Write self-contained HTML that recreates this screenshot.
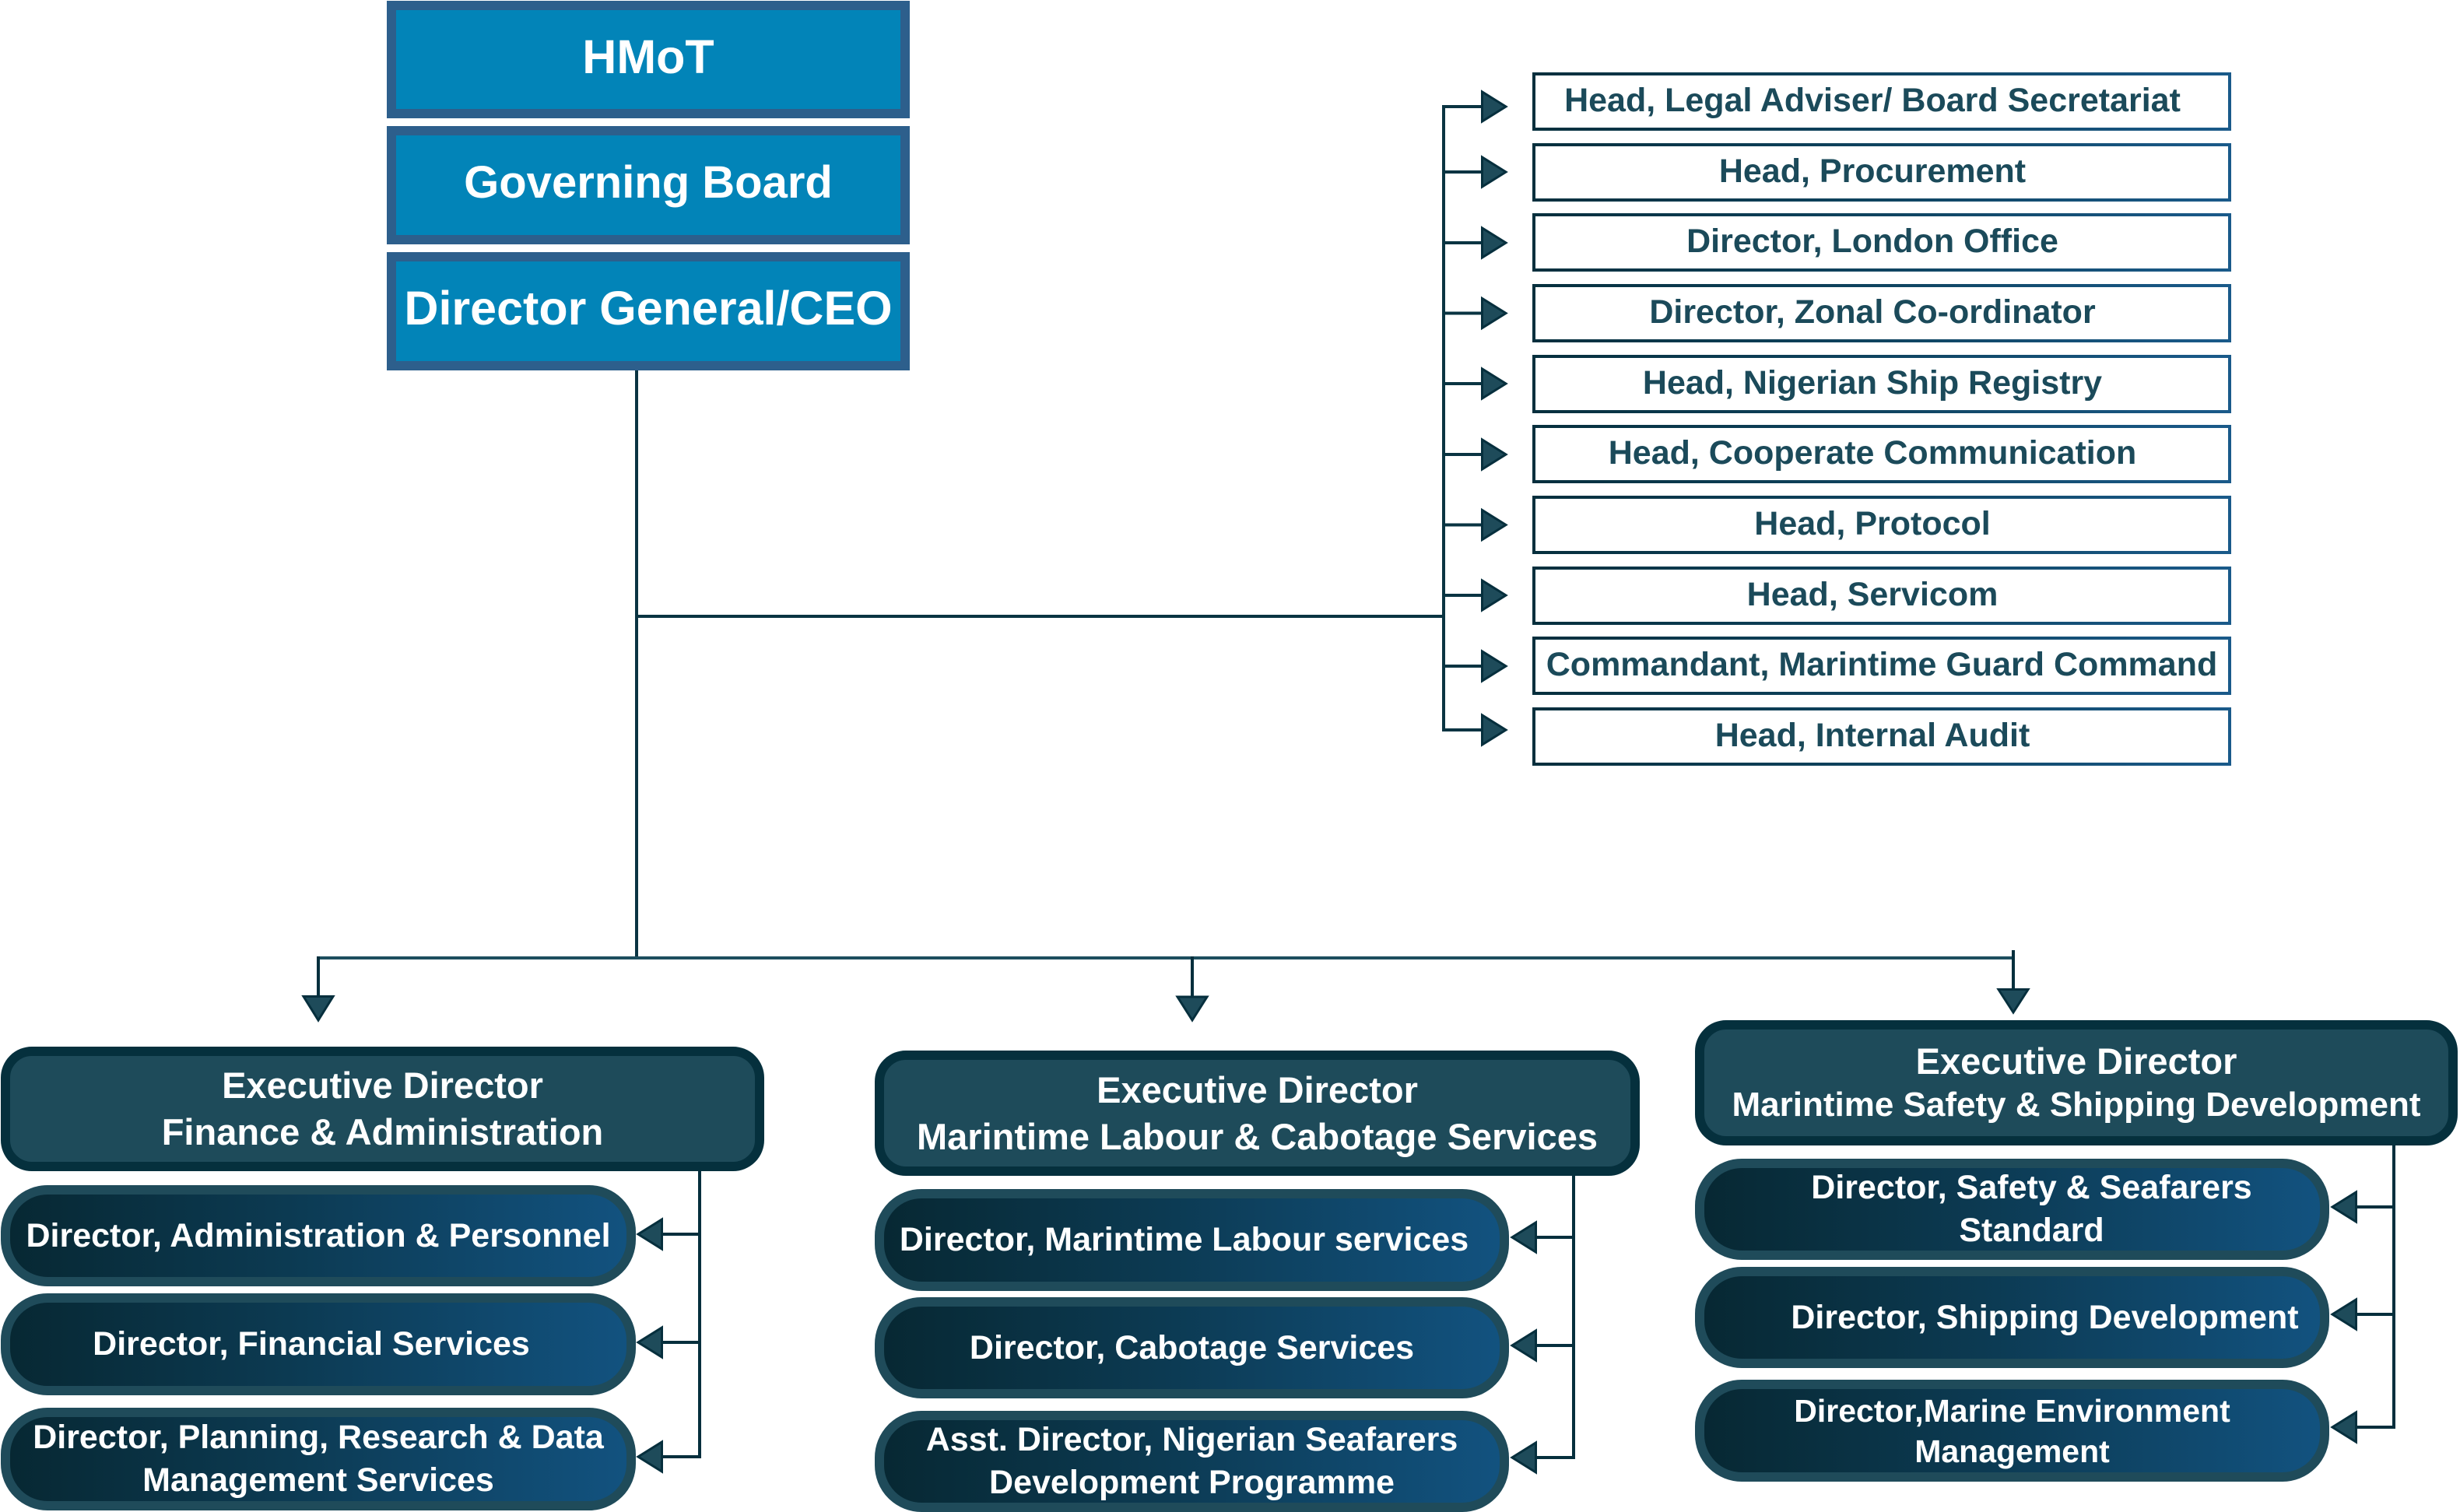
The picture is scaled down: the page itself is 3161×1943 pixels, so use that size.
<!DOCTYPE html>
<html>
<head>
<meta charset="utf-8">
<style>
  html, body { margin:0; padding:0; }
  body { width:3161px; height:1943px; position:relative; overflow:hidden; background:#ffffff;
         font-family:"Liberation Sans","DejaVu Sans",sans-serif; font-weight:bold; }
  svg.lines { position:absolute; left:0; top:0; }
  .top { position:absolute; left:497px; width:672px; box-sizing:border-box; border:12px solid #2d5f8c;
         background:#0284b8; color:#fff; font-size:61px; display:flex; align-items:center; justify-content:center;
         white-space:nowrap; padding-bottom:8px; }
  .rb { position:absolute; left:1969px; width:898px; height:75px; box-sizing:border-box; padding:4px;
        background:linear-gradient(90deg,#062f3d 0%,#0f4460 50%,#1a5a8a 100%); }
  .rb > div { width:100%; height:100%; background:#fff; color:#1b4a5a; font-size:43px; display:flex;
              align-items:center; justify-content:center; white-space:nowrap; box-sizing:border-box; padding-right:24px; padding-bottom:2px; }
  .ed { position:absolute; box-sizing:border-box; border:12px solid #05303d; border-radius:40px; background:#1e4b5a;
        color:#fff; font-size:47px; line-height:60px; text-align:center; display:flex; flex-direction:column;
        justify-content:center; white-space:nowrap; }
  .ch { position:absolute; box-sizing:border-box; border:12px solid #1f4b5a; border-radius:60px;
        background:linear-gradient(90deg,#072833 0%,#0c3a52 45%,#12527f 100%); color:#fff; font-size:43px; line-height:55px;
        display:flex; align-items:center; justify-content:center; text-align:center; white-space:nowrap; }
</style>
</head>
<body>

<svg class="lines" width="3161" height="1943" viewBox="0 0 3161 1943">
  <g stroke="#0a3442" stroke-width="4" fill="none">
    <line x1="818" y1="470" x2="818" y2="1233"/>
    <line x1="816" y1="792" x2="1857" y2="792"/>
    <line x1="1855" y1="135" x2="1855" y2="940"/>
    <line x1="1855" y1="137" x2="1905" y2="137"/>
    <line x1="1855" y1="221" x2="1905" y2="221"/>
    <line x1="1855" y1="312" x2="1905" y2="312"/>
    <line x1="1855" y1="402.5" x2="1905" y2="402.5"/>
    <line x1="1855" y1="493" x2="1905" y2="493"/>
    <line x1="1855" y1="584" x2="1905" y2="584"/>
    <line x1="1855" y1="674.5" x2="1905" y2="674.5"/>
    <line x1="1855" y1="765" x2="1905" y2="765"/>
    <line x1="1855" y1="856" x2="1905" y2="856"/>
    <line x1="1853" y1="938" x2="1905" y2="938"/>
  </g>
  <line x1="407" y1="1231" x2="2589" y2="1231" stroke="#1d4e5e" stroke-width="4"/>
  <g stroke="#062f3d" stroke-width="4" fill="none">
    <line x1="409" y1="1229" x2="409" y2="1282"/>
    <line x1="1532" y1="1229" x2="1532" y2="1282"/>
    <line x1="2587" y1="1221" x2="2587" y2="1272"/>
    <line x1="899" y1="1500" x2="899" y2="1874"/>
    <line x1="850" y1="1586" x2="899" y2="1586"/>
    <line x1="850" y1="1725" x2="899" y2="1725"/>
    <line x1="850" y1="1872" x2="901" y2="1872"/>
    <line x1="2022" y1="1505" x2="2022" y2="1875"/>
    <line x1="1973" y1="1590" x2="2022" y2="1590"/>
    <line x1="1973" y1="1729" x2="2022" y2="1729"/>
    <line x1="1973" y1="1873" x2="2024" y2="1873"/>
    <line x1="3076" y1="1466" x2="3076" y2="1836"/>
    <line x1="3027" y1="1551" x2="3076" y2="1551"/>
    <line x1="3027" y1="1689" x2="3076" y2="1689"/>
    <line x1="3027" y1="1834" x2="3078" y2="1834"/>
  </g>
  <g fill="#1e4b5a" stroke="#062f3d" stroke-width="3" stroke-linejoin="miter">
    <polygon points="1904.5,118 1904.5,156 1935,137"/>
    <polygon points="1904.5,202 1904.5,240 1935,221"/>
    <polygon points="1904.5,293 1904.5,331 1935,312"/>
    <polygon points="1904.5,383.5 1904.5,421.5 1935,402.5"/>
    <polygon points="1904.5,474 1904.5,512 1935,493"/>
    <polygon points="1904.5,565 1904.5,603 1935,584"/>
    <polygon points="1904.5,655.5 1904.5,693.5 1935,674.5"/>
    <polygon points="1904.5,746 1904.5,784 1935,765"/>
    <polygon points="1904.5,837 1904.5,875 1935,856"/>
    <polygon points="1904.5,919 1904.5,957 1935,938"/>
    <polygon points="390,1280.5 428,1280.5 409,1311"/>
    <polygon points="1513,1281 1551,1281 1532,1311"/>
    <polygon points="2568,1271.5 2606,1271.5 2587,1301"/>
    <polygon points="850.5,1567 850.5,1605 820,1586"/>
    <polygon points="850.5,1706 850.5,1744 820,1725"/>
    <polygon points="850.5,1853 850.5,1891 820,1872"/>
    <polygon points="1973.5,1571 1973.5,1609 1943,1590"/>
    <polygon points="1973.5,1710 1973.5,1748 1943,1729"/>
    <polygon points="1973.5,1854 1973.5,1892 1943,1873"/>
    <polygon points="3027.5,1532 3027.5,1570 2997,1551"/>
    <polygon points="3027.5,1670 3027.5,1708 2997,1689"/>
    <polygon points="3027.5,1815 3027.5,1853 2997,1834"/>
  </g>
</svg>

<div class="top" style="top:1px;height:151px;">HMoT</div>
<div class="top" style="top:162px;height:152px;font-size:58px;">Governing Board</div>
<div class="top" style="top:324px;height:152px;">Director General/CEO</div>

<div class="rb" style="top:93px;"><div>Head, Legal Adviser/ Board Secretariat</div></div>
<div class="rb" style="top:183.7px;"><div>Head, Procurement</div></div>
<div class="rb" style="top:274.3px;"><div>Director, London Office</div></div>
<div class="rb" style="top:365px;"><div>Director, Zonal Co-ordinator</div></div>
<div class="rb" style="top:455.7px;"><div>Head, Nigerian Ship Registry</div></div>
<div class="rb" style="top:546.3px;"><div>Head, Cooperate Communication</div></div>
<div class="rb" style="top:637px;"><div>Head, Protocol</div></div>
<div class="rb" style="top:727.7px;"><div>Head, Servicom</div></div>
<div class="rb" style="top:818.3px;"><div style="padding-right:0;">Commandant, Marintime Guard Command</div></div>
<div class="rb" style="top:909px;"><div>Head, Internal Audit</div></div>

<div class="ed" style="left:1px;top:1345px;width:981px;height:160px;">
  <div>Executive Director</div><div>Finance &amp; Administration</div>
</div>
<div class="ed" style="left:1124px;top:1350px;width:983px;height:161px;">
  <div>Executive Director</div><div>Marintime Labour &amp; Cabotage Services</div>
</div>
<div class="ed" style="left:2178px;top:1311px;width:980px;height:161px;line-height:56px;">
  <div>Executive Director</div><div style="font-size:44px;">Marintime Safety &amp; Shipping Development</div>
</div>

<div class="ch" style="left:1px;top:1523px;width:816px;height:130px;">Director, Administration &amp; Personnel</div>
<div class="ch" style="left:1px;top:1662px;width:816px;height:131px;padding-right:18px;">Director, Financial Services</div>
<div class="ch" style="left:1px;top:1809px;width:816px;height:132px;">Director, Planning, Research &amp; Data<br>Management Services</div>

<div class="ch" style="left:1124px;top:1528px;width:815px;height:131px;padding-right:20px;">Director, Marintime Labour services</div>
<div class="ch" style="left:1124px;top:1667px;width:815px;height:130px;">Director, Cabotage Services</div>
<div class="ch" style="left:1124px;top:1813px;width:815px;height:130px;">Asst. Director, Nigerian Seafarers<br>Development Programme</div>

<div class="ch" style="left:2178px;top:1489px;width:815px;height:130px;padding-left:50px;">Director, Safety &amp; Seafarers<br>Standard</div>
<div class="ch" style="left:2178px;top:1628px;width:815px;height:130px;padding-left:84px;">Director, Shipping Development</div>
<div class="ch" style="left:2178px;top:1773px;width:815px;height:131px;font-size:41px;line-height:52px;">Director,Marine Environment<br>Management</div>

</body>
</html>
